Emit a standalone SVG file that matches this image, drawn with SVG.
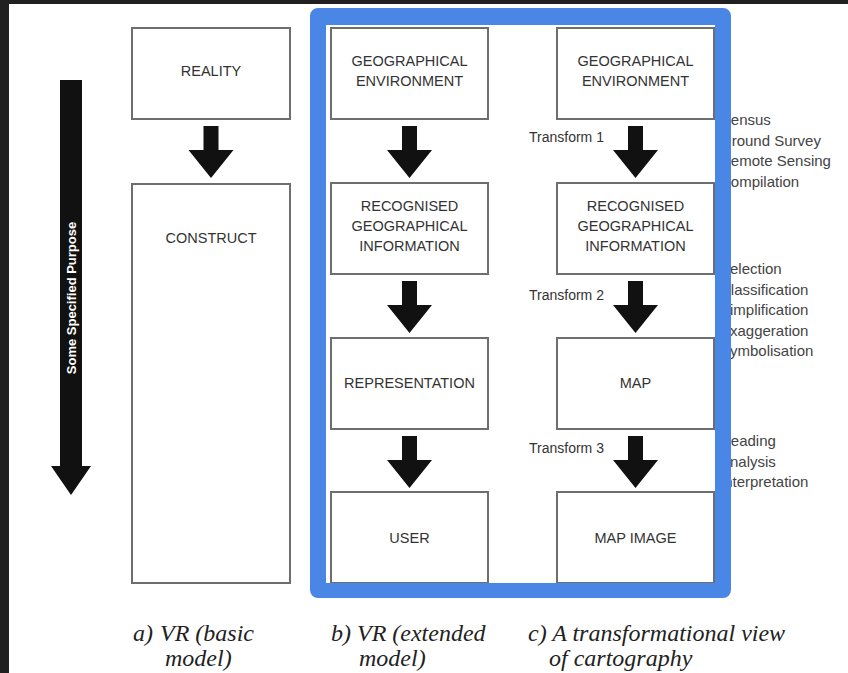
<svg xmlns="http://www.w3.org/2000/svg" width="848" height="673" viewBox="0 0 848 673">
<style>
.box{fill:#fff;stroke:#6e6e6e;stroke-width:2}
.lbl{font-family:"Liberation Sans",Arial,sans-serif;font-size:14.5px;fill:#333;text-anchor:middle}
.tr{font-family:"Liberation Sans",Arial,sans-serif;font-size:14px;fill:#333}
.lst{font-family:"Liberation Sans",Arial,sans-serif;font-size:15px;fill:#444}
.arr{fill:#111}
.cap{font-family:"Liberation Serif","Times New Roman",serif;font-style:italic;font-size:24px;fill:#222}
</style>
<rect x="0" y="0" width="848" height="673" fill="#fff"/>
<rect x="0" y="0" width="848" height="4" fill="#202020"/>
<rect x="0" y="0" width="9" height="673" fill="#202020"/>

<g id="purpose">
<polygon class="arr" points="60,80 82,80 82,466 91,466 71,495 51,466 60,466"/>
<text transform="translate(76,298) rotate(-90)" text-anchor="middle" font-family="Liberation Sans,Arial,sans-serif" font-weight="bold" font-size="13" fill="#fff">Some Specified Purpose</text>
</g>

<g id="reality"><rect class="box" x="132" y="28" width="158" height="91"/><text class="lbl" x="211" y="75.5">REALITY</text></g>
<g id="construct"><rect class="box" x="132" y="184" width="158" height="399"/><text class="lbl" x="211" y="243">CONSTRUCT</text></g>

<g id="b-geo"><rect class="box" x="331" y="28" width="157" height="91"/><text class="lbl" x="409.5" y="66">GEOGRAPHICAL</text><text class="lbl" x="409.5" y="86">ENVIRONMENT</text></g>
<g id="b-rec"><rect class="box" x="331" y="183" width="157" height="91"/><text class="lbl" x="409.5" y="211">RECOGNISED</text><text class="lbl" x="409.5" y="231">GEOGRAPHICAL</text><text class="lbl" x="409.5" y="251">INFORMATION</text></g>
<g id="b-rep"><rect class="box" x="331" y="338" width="157" height="91"/><text class="lbl" x="409.5" y="388">REPRESENTATION</text></g>
<g id="b-user"><rect class="box" x="331" y="492" width="157" height="91"/><text class="lbl" x="409.5" y="543">USER</text></g>

<g id="c-geo"><rect class="box" x="557" y="28" width="157" height="91"/><text class="lbl" x="635.5" y="66">GEOGRAPHICAL</text><text class="lbl" x="635.5" y="86">ENVIRONMENT</text></g>
<g id="c-rec"><rect class="box" x="557" y="183" width="157" height="91"/><text class="lbl" x="635.5" y="211">RECOGNISED</text><text class="lbl" x="635.5" y="231">GEOGRAPHICAL</text><text class="lbl" x="635.5" y="251">INFORMATION</text></g>
<g id="c-map"><rect class="box" x="557" y="338" width="157" height="91"/><text class="lbl" x="635.5" y="388">MAP</text></g>
<g id="c-img"><rect class="box" x="557" y="492" width="157" height="91"/><text class="lbl" x="635.5" y="543">MAP IMAGE</text></g>

<g id="connectors">
<polygon class="arr" points="203.5,126 218.5,126 218.5,150 233.5,150 211,178 188.5,150 203.5,150"/>
<polygon class="arr" points="402,126 417,126 417,150 432,150 409.5,178 387,150 402,150"/>
<polygon class="arr" points="402,281 417,281 417,305 432,305 409.5,333 387,305 402,305"/>
<polygon class="arr" points="402,436 417,436 417,460 432,460 409.5,488 387,460 402,460"/>
<polygon class="arr" points="628,126 643,126 643,150 658,150 635.5,178 613,150 628,150"/>
<polygon class="arr" points="628,281 643,281 643,305 658,305 635.5,333 613,305 628,305"/>
<polygon class="arr" points="628,436 643,436 643,460 658,460 635.5,488 613,460 628,460"/>
<text class="tr" x="529" y="142">Transform 1</text>
<text class="tr" x="529" y="300">Transform 2</text>
<text class="tr" x="529" y="453">Transform 3</text>
</g>

<g id="lists">
<text class="lst" x="720" y="125">Census</text>
<text class="lst" x="720" y="145.5">Ground Survey</text>
<text class="lst" x="720" y="166">Remote Sensing</text>
<text class="lst" x="720" y="186.5">Compilation</text>
<text class="lst" x="720" y="274">Selection</text>
<text class="lst" x="720" y="294.5">Classification</text>
<text class="lst" x="720" y="315">Simplification</text>
<text class="lst" x="720" y="335.5">Exaggeration</text>
<text class="lst" x="720" y="356">Symbolisation</text>
<text class="lst" x="720" y="446">Reading</text>
<text class="lst" x="720" y="466.5">Analysis</text>
<text class="lst" x="720" y="487">Interpretation</text>
</g>

<path id="highlight" fill="#4a86e6" fill-rule="evenodd" d="M318,8 H723 A8,8 0 0 1 731,16 V590 A8,8 0 0 1 723,598 H318 A8,8 0 0 1 310,590 V16 A8,8 0 0 1 318,8 Z M326,25 V583 H715 V25 Z"/>

<g id="captions">
<text class="cap" x="133" y="641">a)</text>
<text class="cap" x="160" y="641">VR (basic</text>
<text class="cap" x="165" y="666">model)</text>
<text class="cap" x="331" y="641">b) VR (extended</text>
<text class="cap" x="359" y="666">model)</text>
<text class="cap" x="528" y="641">c) A transformational view</text>
<text class="cap" x="549" y="666">of cartography</text>
</g>
</svg>
